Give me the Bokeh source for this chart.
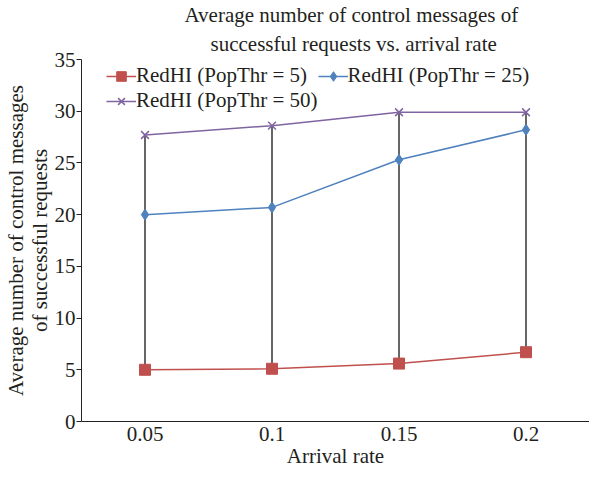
from bokeh.plotting import figure
from bokeh.models import Range1d, FactorRange, Legend, LegendItem, Title, SingleIntervalTicker
from bokeh.embed import file_html
from bokeh.resources import INLINE

rates = ["0.05", "0.1", "0.15", "0.2"]
pop5 = [5.0, 5.1, 5.6, 6.7]
pop25 = [20.0, 20.7, 25.3, 28.2]
pop50 = [27.7, 28.6, 29.9, 29.9]

FONT = "Liberation Serif"
TXT = "#231f20"
FS = "21px"

p = figure(width=589, height=471, x_range=FactorRange(*rates), y_range=Range1d(0, 35),
           output_backend="svg", toolbar_location=None,
           min_border_left=71, min_border_right=0, min_border_top=54, min_border_bottom=50)
p.title = None
p.outline_line_color = None
p.xgrid.grid_line_color = None
p.ygrid.grid_line_color = None

# high-low lines
p.segment(x0=rates, y0=pop5, x1=rates, y1=pop50, line_color="#000000", line_width=1.2)

r5l = p.line(rates, pop5, line_color="#C0504D", line_width=1.5)
r5m = p.scatter(rates, pop5, marker="square", size=11, fill_color="#C0504D", line_color="#C0504D")
r25l = p.line(rates, pop25, line_color="#4F81BD", line_width=1.5)
r25m = p.scatter(rates, pop25, marker="diamond", size=11, fill_color="#4F81BD", line_color="#4F81BD")
r50l = p.line(rates, pop50, line_color="#8064A2", line_width=1.5)
r50m = p.scatter(rates, pop50, marker="x", size=11, line_color="#8064A2", line_width=1.5)

legend = Legend(items=[
    LegendItem(label="RedHI (PopThr = 5)", renderers=[r5l, r5m]),
    LegendItem(label="RedHI (PopThr = 50)", renderers=[r50l, r50m]),
    LegendItem(label="RedHI (PopThr = 25)", renderers=[r25l, r25m]),
], ncols=2, location=(25, 308))
legend.label_text_font = FONT
legend.label_text_font_size = FS
legend.label_text_color = TXT
legend.background_fill_alpha = 0
legend.border_line_color = None
legend.glyph_width = 30
legend.glyph_height = 24
legend.label_height = 24
legend.spacing = 0
legend.label_standoff = 0
legend.margin = 0
legend.padding = 0
p.add_layout(legend, "center")

# title lines (closest to the frame added first)
p.add_layout(Title(text="successful requests vs. arrival rate",
                   align="left", offset=129, standoff=7,
                   text_font=FONT, text_font_size=FS, text_font_style="normal",
                   text_color=TXT), "above")
p.add_layout(Title(text="Average number of control messages of",
                   align="left", offset=103, standoff=0,
                   text_font=FONT, text_font_size=FS, text_font_style="normal",
                   text_color=TXT), "above")

p.yaxis.ticker = SingleIntervalTicker(interval=5)
p.yaxis.minor_tick_line_color = None
p.yaxis.major_tick_in = 0
p.yaxis.major_tick_out = 5
p.yaxis.axis_label = "Average number of control messages\nof successful requests"
p.xaxis.axis_label = "Arrival rate"
p.xaxis.minor_tick_line_color = None
for ax in (p.xaxis, p.yaxis):
    ax.axis_line_color = "#222222"
    ax.major_label_text_font = FONT
    ax.major_label_text_font_size = FS
    ax.major_label_text_color = TXT
    ax.axis_label_text_font = FONT
    ax.axis_label_text_font_size = FS
    ax.axis_label_text_font_style = "normal"
    ax.axis_label_text_color = TXT
p.yaxis.axis_label_text_line_height = 1.0
p.yaxis.major_tick_line_color = "#222222"
p.xaxis.major_tick_line_color = None
p.xaxis.major_tick_out = 0
p.xaxis.major_label_standoff = 5
p.xaxis.axis_label_standoff = 0
p.yaxis.major_label_standoff = 1
p.yaxis.axis_label_standoff = 0

open("out.html", "w").write(file_html(p, INLINE))
